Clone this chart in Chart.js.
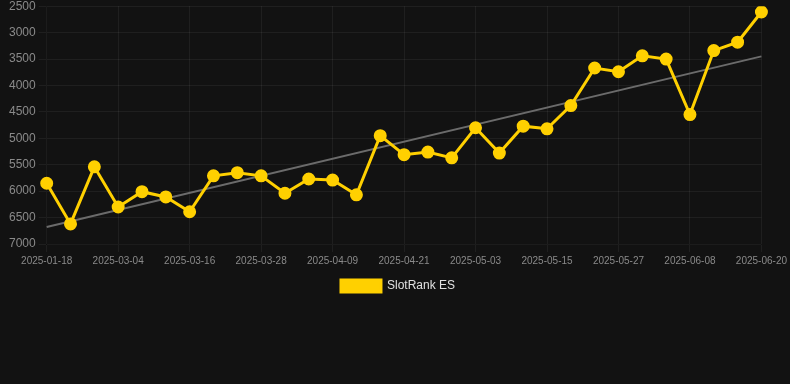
<!DOCTYPE html>
<html>
<head>
<meta charset="utf-8">
<script src="https://cdn.jsdelivr.net/npm/chart.js@4/dist/chart.umd.min.js"></script>
<style>
  html, body { margin: 0; padding: 0; background: #121212; overflow: hidden; }
  .wrap { position: relative; width: 790px; height: 306px; margin-top: -4px; }
</style>
</head>
<body>
<div class="wrap"><canvas id="chart-rank"></canvas></div>
<script>
// -------------------- data --------------------
const dates = [
  '2025-01-18', '2025-02-24', '2025-02-28', '2025-03-04', '2025-03-08', '2025-03-12',
  '2025-03-16', '2025-03-20', '2025-03-24', '2025-03-28', '2025-04-01', '2025-04-05',
  '2025-04-09', '2025-04-13', '2025-04-17', '2025-04-21', '2025-04-25', '2025-04-29',
  '2025-05-03', '2025-05-07', '2025-05-11', '2025-05-15', '2025-05-19', '2025-05-23',
  '2025-05-27', '2025-05-31', '2025-06-04', '2025-06-08', '2025-06-12', '2025-06-16',
  '2025-06-20',
];
const rankES = [
  5850, 6620, 5540, 6300, 6010, 6110, 6390, 5710, 5650, 5710, 6040,
  5770, 5790, 6070, 4950, 5310, 5260, 5370, 4800, 5280, 4770, 4820,
  4380, 3670, 3740, 3440, 3500, 4550, 3340, 3180, 2610,
];
// trend line end points (only first and last drawn, joined across the gap)
const trendStart = 6680;
const trendEnd = 3450;
const trend = dates.map((d, i) => i === 0 ? trendStart : i === dates.length - 1 ? trendEnd : null);

const palette = {
  line: '#FFD000', trend: '#6b6b6b',
  grid: 'rgba(255,255,255,0.06)', text: '#8a8a8a', legend: '#e0e0e0',
};

new Chart(document.getElementById('chart-rank'), {
  type: 'line',
  data: {
    labels: dates,
    datasets: [
      { label: 'SlotRank ES', data: rankES, borderColor: palette.line, backgroundColor: palette.line,
        borderWidth: 3, pointRadius: 5, pointHoverRadius: 6, tension: 0, fill: false },
      { label: 'Trend', data: trend, borderColor: palette.trend, borderWidth: 2,
        pointRadius: 0, spanGaps: true, fill: false },
    ],
  },
  options: {
    responsive: true, maintainAspectRatio: false, animation: false,
    layout: { padding: { left: 6 } },
    plugins: {
      legend: {
        position: 'bottom',
        labels: { color: palette.legend, font: { size: 12 }, filter: item => item.datasetIndex === 0 },
      },
      tooltip: { enabled: false },
    },
    scales: {
      x: { grid: { color: palette.grid }, ticks: { color: palette.text, font: { size: 10 }, maxRotation: 0 } },
      y: { reverse: true, min: 2500, max: 7000, grid: { color: palette.grid },
           ticks: { color: palette.text, font: { size: 12 }, stepSize: 500, callback: v => String(v) } },
    },
  },
});
</script>
</body>
</html>
